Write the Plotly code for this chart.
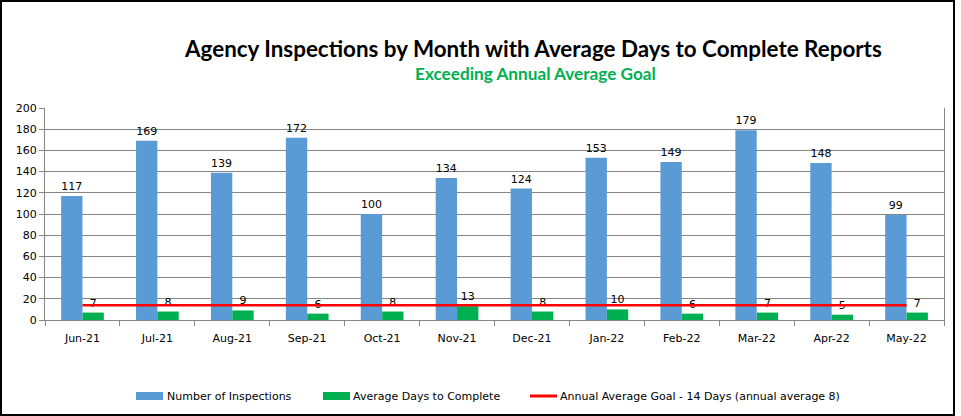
import plotly.graph_objects as go

months = ["Jun-21", "Jul-21", "Aug-21", "Sep-21", "Oct-21", "Nov-21",
          "Dec-21", "Jan-22", "Feb-22", "Mar-22", "Apr-22", "May-22"]
inspections = [117, 169, 139, 172, 100, 134, 124, 153, 149, 179, 148, 99]
avg_days = [7, 8, 9, 6, 8, 13, 8, 10, 6, 7, 5, 7]
goal = [14] * len(months)

names = ["Number of Inspections", "Average Days to Complete",
         "Annual Average Goal - 14 Days (annual average 8)"]
colors = ["#5B9BD5", "#00B050", "#FF0000"]

W, H = 961, 416
ML, MR, MT, MB = 45, 17, 108, 96
PW, PH = W - ML - MR, H - MT - MB

def px(x):
    return (x - ML) / PW

def py(y):
    return (H - MB - y) / PH

tick_font = dict(family="DejaVu Sans", size=11, color="#000000")

fig = go.Figure()
fig.add_trace(go.Bar(
    x=months, y=inspections, name=names[0],
    marker=dict(color=colors[0], line=dict(width=0)),
    text=inspections, textposition="outside", cliponaxis=False,
    textfont=tick_font,
))
fig.add_trace(go.Bar(
    x=months, y=avg_days, name=names[1],
    marker=dict(color=colors[1], line=dict(width=0)),
    text=avg_days, textposition="outside", cliponaxis=False,
    textfont=tick_font,
))
fig.add_trace(go.Scatter(
    x=months, y=goal, mode="lines", name=names[2],
    line=dict(color=colors[2], width=2.5),
))

shapes = [dict(type="rect", xref="paper", yref="paper",
               x0=px(1), x1=px(954), y0=py(415), y1=py(1),
               line=dict(color="#000000", width=2), fillcolor="rgba(0,0,0,0)")]
annotations = [
    dict(text="<b>Agency Inspections by Month with Average Days to Complete Reports</b>",
         xref="paper", yref="paper", x=px(533), y=py(48), showarrow=False,
         xanchor="center", yanchor="middle",
         font=dict(family="Lato", size=22.4, color="#000000")),
    dict(text="<b>Exceeding Annual Average Goal</b>",
         xref="paper", yref="paper", x=px(535), y=py(73), showarrow=False,
         xanchor="center", yanchor="middle",
         font=dict(family="Lato", size=17.2, color="#00B050")),
]

# custom legend
leg_y = 396
swatch_x = [136, 323, 530]
text_x = [165, 351, 558]
for i in range(3):
    if i < 2:
        shapes.append(dict(type="rect", xref="paper", yref="paper",
                           x0=px(swatch_x[i]), x1=px(swatch_x[i] + 27),
                           y0=py(leg_y + 4), y1=py(leg_y - 4),
                           line=dict(width=0), fillcolor=colors[i]))
    else:
        shapes.append(dict(type="line", xref="paper", yref="paper",
                           x0=px(swatch_x[i]), x1=px(swatch_x[i] + 27),
                           y0=py(leg_y), y1=py(leg_y),
                           line=dict(color=colors[i], width=3)))
    annotations.append(dict(text=names[i], xref="paper", yref="paper",
                            x=px(text_x[i]), y=py(leg_y), showarrow=False,
                            xanchor="left", yanchor="middle",
                            font=dict(family="DejaVu Sans", size=11, color="#000000")))

fig.update_layout(
    width=W, height=H,
    margin=dict(l=ML, r=MR, t=MT, b=MB),
    paper_bgcolor="white", plot_bgcolor="white",
    barmode="group", bargap=0.43, bargroupgap=0,
    showlegend=False,
    xaxis=dict(showgrid=False, showline=True, linecolor="#868686", linewidth=1,
               ticks="outside", tickson="boundaries", ticklen=5, tickcolor="#868686",
               tickfont=tick_font, ticklabelstandoff=8),
    yaxis=dict(range=[0, 200], dtick=20, showgrid=True, gridcolor="#868686", gridwidth=1,
               showline=True, linecolor="#868686", linewidth=1, mirror=True,
               ticks="outside", ticklen=5, tickcolor="#868686", tickfont=tick_font,
               zeroline=False),
    shapes=shapes,
    annotations=annotations,
)

fig.write_html("out.html")
